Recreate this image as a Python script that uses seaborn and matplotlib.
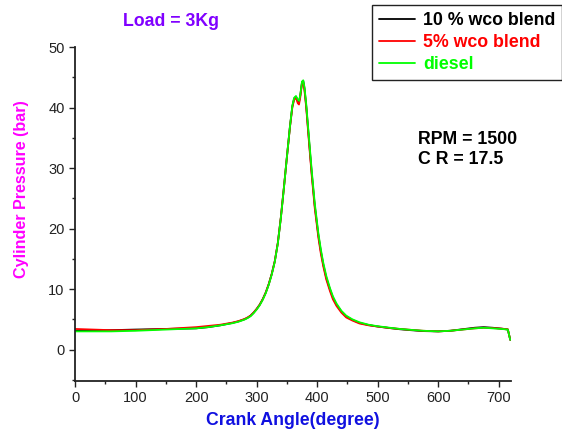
import matplotlib
matplotlib.use("Agg")
import matplotlib.pyplot as plt
from matplotlib.ticker import MultipleLocator
import seaborn as sns
import pandas as pd

# Ángulo de cigüeñal (grados) y presión de cilindro (bar)
angulo = [0, 30, 60, 100, 150, 200, 220, 240, 260, 270, 280, 285, 290, 295, 300, 305, 310,
          315, 320, 325, 330, 335, 340, 345, 350, 355, 359, 362, 365, 368, 370, 372,
          375, 377, 379, 382, 385, 388, 391, 396, 402, 406, 410, 415, 421, 426, 432,
          440, 448, 458, 470, 485, 500, 520, 537, 555, 575, 600, 620, 640, 660, 675,
          690, 705, 715, 719]

p_diesel = [3.0, 3.0, 3.0, 3.1, 3.3, 3.5, 3.7, 4.0, 4.35, 4.6, 4.95, 5.2, 5.5, 6.0, 6.6, 7.3, 8.2,
            9.3, 10.7, 12.4, 14.5, 17.5, 21.7, 26.6, 31.8, 36.8, 40.3, 41.6, 41.9, 41.3, 41.1, 42.0,
            44.3, 44.5, 43.4, 40.5, 36.8, 33.2, 29.6, 24.2, 19.2, 16.6, 14.4, 12.2, 10.2, 8.8, 7.6,
            6.4, 5.6, 5.0, 4.5, 4.1, 3.85, 3.6, 3.4, 3.25, 3.1, 3.0, 3.1, 3.3, 3.5, 3.6,
            3.5, 3.4, 3.3, 1.6]

p_wco5 = [3.4, 3.3, 3.2, 3.2, 3.4, 3.7, 3.9, 4.1, 4.45, 4.7, 5.05, 5.3, 5.6, 6.1, 6.7, 7.4, 8.3,
          9.4, 10.8, 12.5, 14.6, 17.6, 21.8, 26.7, 31.8, 36.7, 40.0, 41.3, 41.6, 40.7, 40.5, 41.6,
          44.0, 44.1, 42.9, 39.9, 36.1, 32.4, 28.8, 23.4, 18.5, 15.9, 13.8, 11.6, 9.7, 8.3, 7.2,
          6.1, 5.3, 4.8, 4.3, 4.0, 3.8, 3.55, 3.4, 3.25, 3.1, 3.0, 3.1, 3.3, 3.5, 3.6,
          3.55, 3.45, 3.35, 1.6]

p_wco10 = [3.1, 3.1, 3.2, 3.3, 3.4, 3.5, 3.7, 4.0, 4.4, 4.65, 5.0, 5.25, 5.6, 6.1, 6.7, 7.4, 8.3,
           9.4, 10.8, 12.5, 14.6, 17.6, 21.8, 26.7, 31.8, 36.8, 40.2, 41.5, 41.8, 41.1, 40.9, 41.9,
           44.2, 44.4, 43.2, 40.2, 36.5, 32.8, 29.2, 23.8, 18.9, 16.3, 14.1, 11.9, 10.0, 8.6, 7.4,
           6.3, 5.5, 4.9, 4.4, 4.05, 3.8, 3.55, 3.35, 3.2, 3.05, 3.0, 3.1, 3.35, 3.6, 3.7,
           3.6, 3.45, 3.3, 1.6]

series = ["10 % wco blend", "5% wco blend", "diesel"]
colores = ["black", "#ff0000", "#00ff00"]

n = len(angulo)
df = pd.DataFrame({
    "angulo": angulo * 3,
    "presion": p_wco10 + p_wco5 + p_diesel,
    "serie": [series[0]] * n + [series[1]] * n + [series[2]] * n,
})

sns.set_style("ticks")
plt.rcParams["font.family"] = ["Liberation Sans", "DejaVu Sans"]

fig = plt.figure(figsize=(5.62, 4.29), dpi=100)
ax = fig.add_axes([0.1335, 0.1119, 0.909 - 0.1335, 0.8904 - 0.1119])

sns.lineplot(data=df, x="angulo", y="presion", hue="serie", hue_order=series,
             palette=colores, linewidth=1.3, ax=ax, legend=False, sort=False)

ax.set_xlim(0, 720)
ax.set_ylim(-5.2, 50)
ax.xaxis.set_major_locator(MultipleLocator(100))
ax.xaxis.set_minor_locator(MultipleLocator(50))
ax.yaxis.set_major_locator(MultipleLocator(10))
ax.yaxis.set_minor_locator(MultipleLocator(5))
ax.tick_params(which="major", direction="out", length=4, width=1, labelsize=10.5,
               colors="#222222", labelcolor="#222222")
ax.tick_params(which="minor", direction="out", length=2.5, width=1, colors="#222222")
sns.despine(ax=ax)
for lado in ["left", "bottom"]:
    ax.spines[lado].set_linewidth(1.3)
    ax.spines[lado].set_color("#222222")

ax.set_xlabel("Crank Angle(degree)", fontsize=12.7, fontweight="bold", color="#1010e0")
ax.set_ylabel("Cylinder Pressure (bar)", fontsize=11.6, fontweight="bold", color="#ff00ff")
ax.xaxis.set_label_coords(0.5, -(421 - 381) / 334, transform=ax.transAxes)
ax.yaxis.set_label_coords(-(75 - 21) / 436, (381 - 189) / 334, transform=ax.transAxes)
ax.xaxis.label.set_va("center")
ax.yaxis.label.set_va("center")

fig.text(171 / 562, 1 - 22 / 429, "Load = 3Kg", fontsize=12.8, fontweight="bold",
         color="#8000ff", ha="center", va="center")
fig.text(418 / 562, 1 - 140 / 429, "RPM = 1500", fontsize=12.8, fontweight="bold",
         color="black", ha="left", va="center")
fig.text(418 / 562, 1 - 160 / 429, "C R = 17.5", fontsize=12.8, fontweight="bold",
         color="black", ha="left", va="center")

# Leyenda con el texto coloreado
lineas = [plt.Line2D([], [], color=c, linewidth=1.3) for c in colores]
leg = fig.legend(lineas, series, loc="upper left", bbox_to_anchor=(372 / 562, 1 - 5 / 429),
                 bbox_transform=fig.transFigure, fancybox=False, framealpha=1,
                 edgecolor="#222222", handlelength=2.05, handletextpad=0.45,
                 labelspacing=0.3, borderpad=0.38, borderaxespad=0,
                 prop={"weight": "bold", "size": 12.8})
leg.get_frame().set_linewidth(1.0)
for texto, c in zip(leg.get_texts(), colores):
    texto.set_color(c)

fig.savefig("out.png", dpi=100)
